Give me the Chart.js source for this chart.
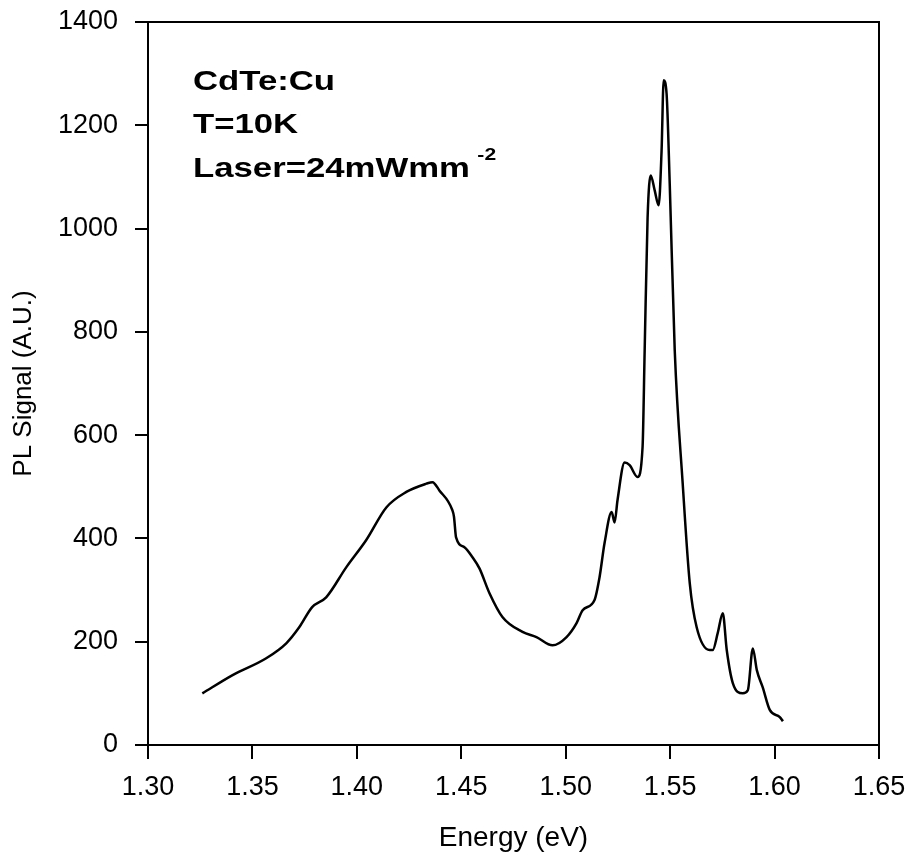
<!DOCTYPE html>
<html>
<head>
<meta charset="utf-8">
<script src="https://cdn.jsdelivr.net/npm/chart.js@4"></script>
<style>
  body { margin: 0; background: #fff; }
  #wrap { width: 911px; height: 858px; }
</style>
</head>
<body>
<div id="wrap"><canvas id="pl"></canvas></div>
<script>
// PL spectrum, CdTe:Cu at 10 K
const energy = [1.326, 1.3403, 1.3566, 1.3662, 1.3724, 1.3786, 1.3853, 1.3949, 1.4045, 1.4141,
  1.4237, 1.4333, 1.4362, 1.4395, 1.4457, 1.4465, 1.4475, 1.4515, 1.4553, 1.4587,
  1.4635, 1.4697, 1.4793, 1.486, 1.4937, 1.5004, 1.5052, 1.5081, 1.5138, 1.5162,
  1.5186, 1.522, 1.5234, 1.5248, 1.5282, 1.5306, 1.5344, 1.5368, 1.5378, 1.5392,
  1.5407, 1.5426, 1.5445, 1.5459, 1.5469, 1.5483, 1.5498, 1.5522, 1.556, 1.5594,
  1.5627, 1.5689, 1.5704, 1.5728, 1.5752, 1.5771, 1.58, 1.5848, 1.5872, 1.5896,
  1.5915, 1.5943, 1.5977, 1.6025, 1.604];
const signal = [100, 135, 168, 197, 228, 267, 286, 344, 397, 460,
  490, 506, 509, 493, 455, 442, 402, 383, 364, 342,
  294, 248, 219, 209, 193, 209, 236, 261, 281, 325,
  391, 451, 431, 474, 547, 542, 519, 577, 764, 1021,
  1103, 1074, 1045, 1151, 1287, 1261, 1087, 764, 507, 313,
  228, 184, 184, 217, 255, 184, 120, 100, 106, 187,
  145, 112, 68, 54, 46];
const xTicks = [1.30, 1.35, 1.40, 1.45, 1.50, 1.55, 1.60, 1.65];
const yTicks = [0, 200, 400, 600, 800, 1000, 1200, 1400];
const notes = ['CdTe:Cu', 'T=10K', 'Laser=24mWmm'];

const FONT = "'Liberation Sans', Arial, sans-serif";

const framePlugin = {
  id: 'frame',
  afterDraw(chart) {
    const { ctx, chartArea: a } = chart;
    ctx.save();
    ctx.strokeStyle = '#000';
    ctx.lineWidth = 2;
    ctx.beginPath();
    ctx.moveTo(a.left, a.top);
    ctx.lineTo(a.right, a.top);
    ctx.lineTo(a.right, a.bottom + 14);
    ctx.stroke();

    // annotation text
    ctx.fillStyle = '#000';
    ctx.textBaseline = 'alphabetic';
    ctx.font = 'bold 28px ' + FONT;
    const x0 = 193, base = [90, 133, 177];
    notes.forEach((t, i) => {
      ctx.save();
      ctx.translate(x0, base[i]);
      ctx.scale(1.24, 1);
      ctx.fillText(t, 0, 0);
      if (i === 2) {
        const w = ctx.measureText(t).width;
        ctx.font = 'bold 17px ' + FONT;
        ctx.fillText('-2', w + 6, -17);
      }
      ctx.restore();
    });
    ctx.restore();
  }
};

new Chart(document.getElementById('pl'), {
  type: 'line',
  data: {
    datasets: [{
      data: energy.map((e, i) => ({ x: e, y: signal[i] })),
      borderColor: '#000',
      borderWidth: 2.5,
      pointRadius: 0,
      cubicInterpolationMode: 'monotone',
      fill: false
    }]
  },
  options: {
    responsive: true,
    maintainAspectRatio: false,
    animation: false,
    layout: { padding: { left: 0, top: 22, right: 32, bottom: 0 } },
    plugins: { legend: { display: false }, tooltip: { enabled: false } },
    scales: {
      x: {
        type: 'linear',
        min: 1.30,
        max: 1.65,
        afterFit(s) { s.height = 113; s.paddingLeft = 0; s.paddingRight = 0; },
        afterBuildTicks(s) { s.ticks = xTicks.map(v => ({ value: v })); },
        ticks: {
          color: '#000',
          font: { family: FONT, size: 27 },
          padding: 12,
          callback: v => v.toFixed(2)
        },
        grid: { drawOnChartArea: false, tickLength: 14, color: '#000', lineWidth: 2 },
        border: { color: '#000', width: 2 },
        title: {
          display: true,
          text: 'Energy (eV)',
          color: '#000',
          font: { family: FONT, size: 28 },
          padding: { top: 0, bottom: 3 }
        }
      },
      y: {
        min: 0,
        max: 1400,
        afterFit(s) { s.width = 148; s.paddingTop = 0; s.paddingBottom = 0; },
        afterBuildTicks(s) { s.ticks = yTicks.map(v => ({ value: v })); },
        ticks: {
          color: '#000',
          font: { family: FONT, size: 27 },
          padding: 17,
          callback: v => String(v)
        },
        grid: { drawOnChartArea: false, tickLength: 13, color: '#000', lineWidth: 2 },
        border: { color: '#000', width: 2 },
        title: {
          display: true,
          text: 'PL Signal (A.U.)',
          color: '#000',
          font: { family: FONT, size: 26 },
          padding: { top: 8, bottom: 0 }
        }
      }
    }
  },
  plugins: [framePlugin]
});
</script>
</body>
</html>
